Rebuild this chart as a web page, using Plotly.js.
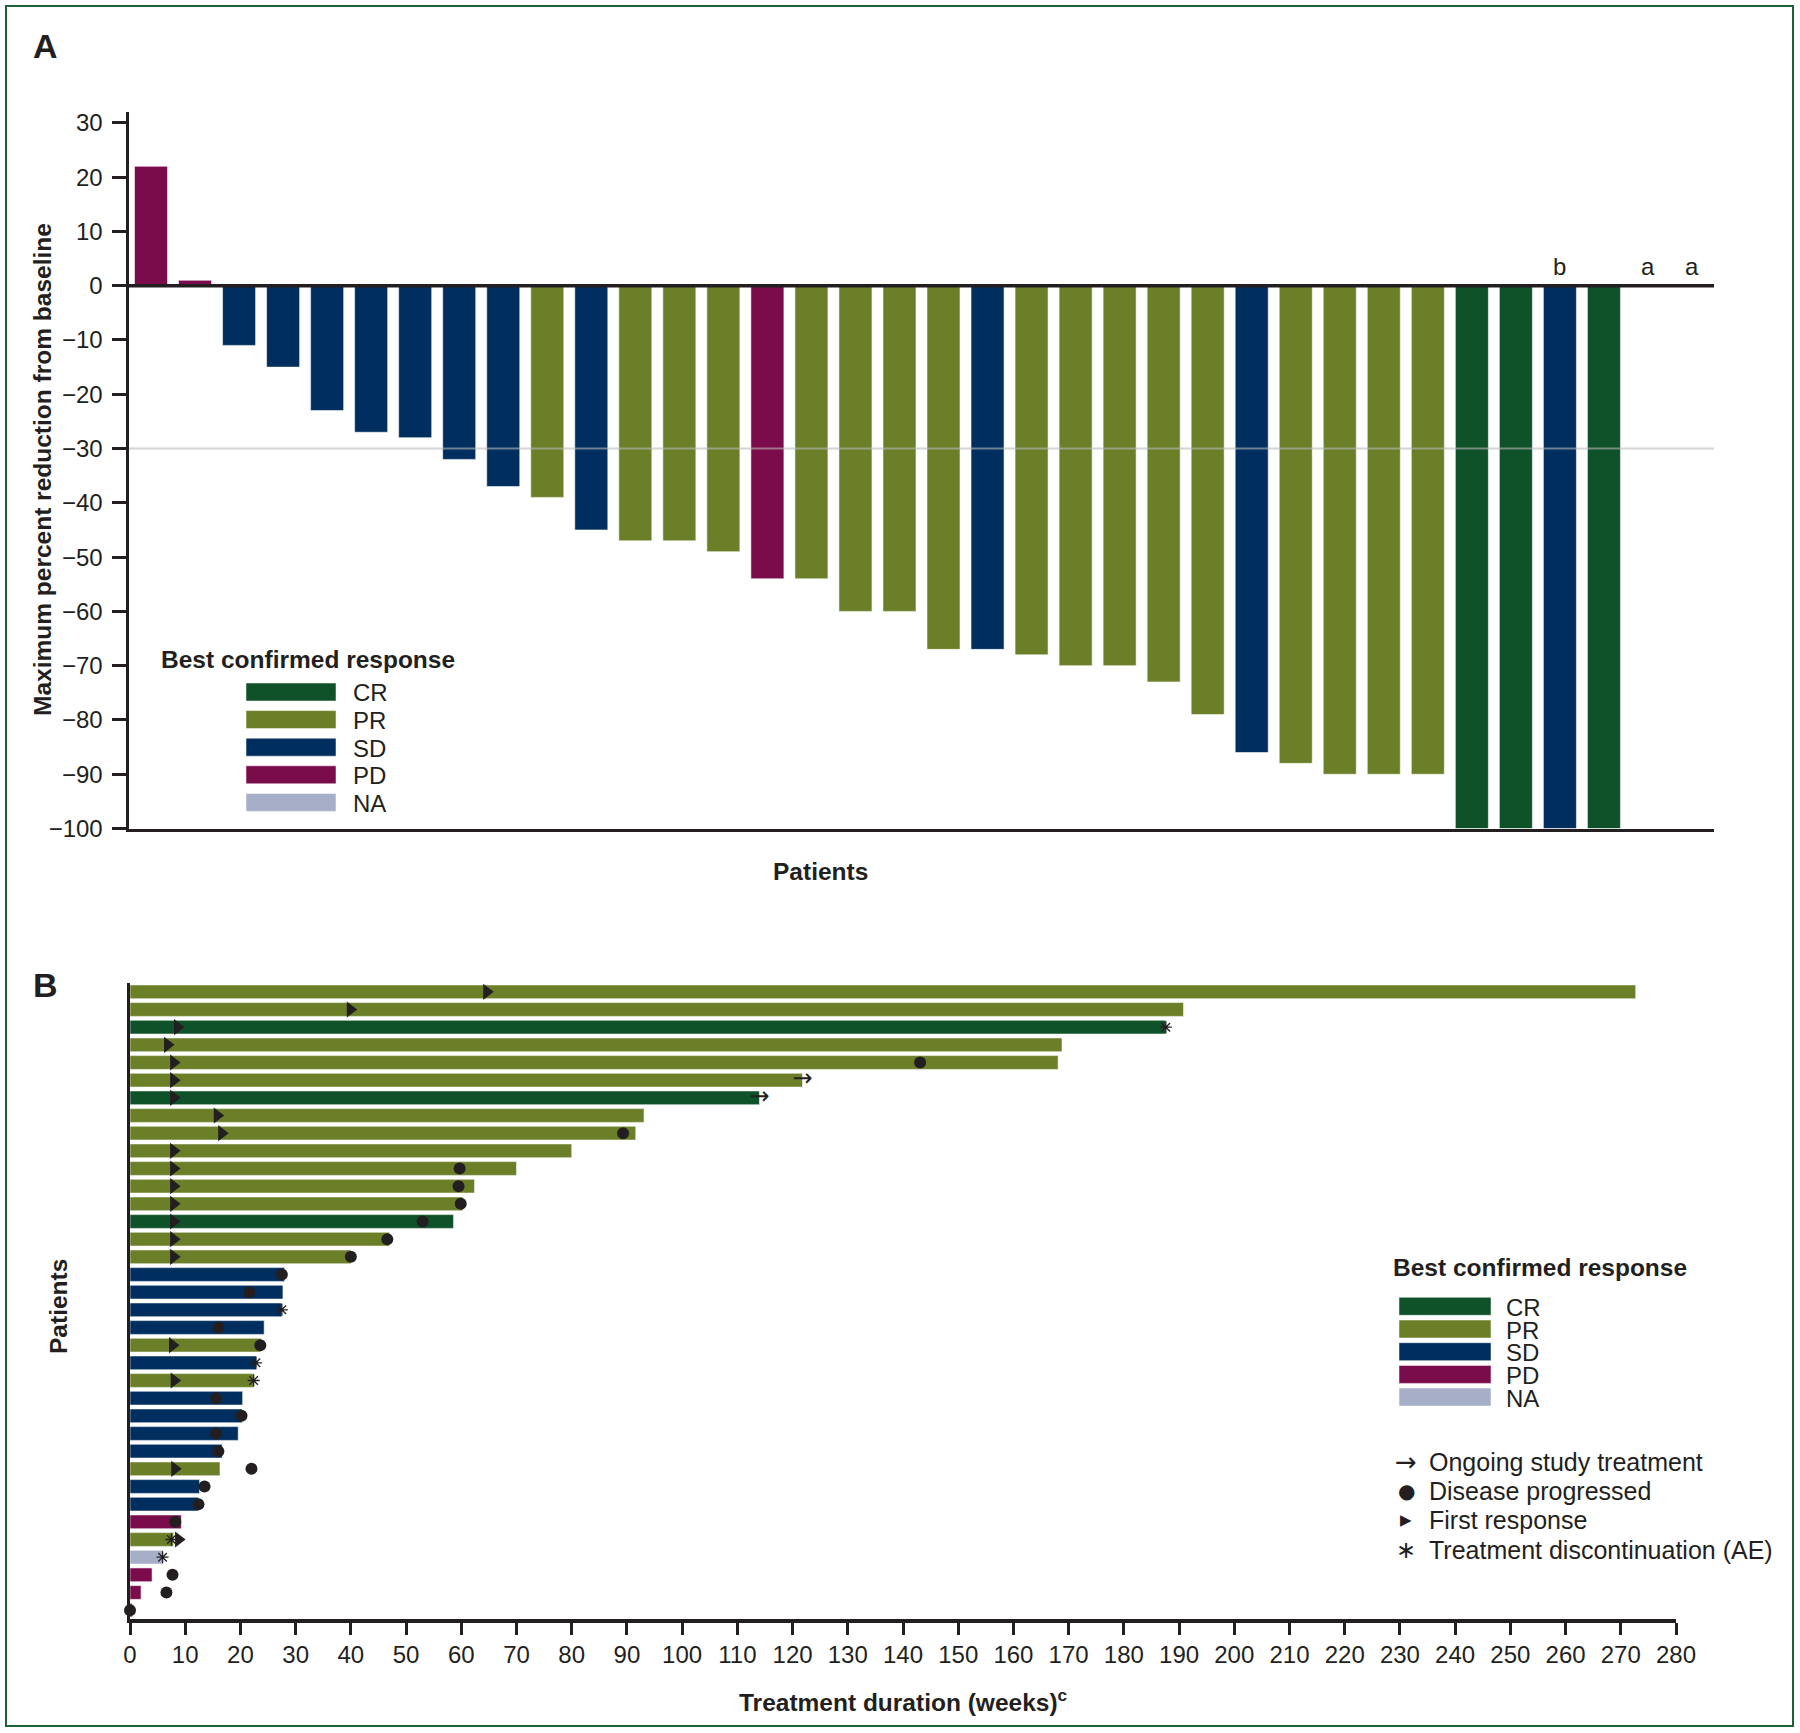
<!DOCTYPE html>
<html>
<head>
<meta charset="utf-8">
<script src="https://cdn.plot.ly/plotly-3.0.1.min.js"></script>
<style>html,body{margin:0;padding:0;background:#fff;}#chart{width:1800px;height:1733px;}</style>
</head>
<body>
<div id="chart"></div>
<script>
// ---------------- Panel A data (waterfall) ----------------
const patientsA = [1,2,3,4,5,6,7,8,9,10,11,12,13,14,15,16,17,18,19,20,21,22,23,24,25,26,27,28,29,30,31,32,33,34,35,36];
const changeA = [22, 1, -11, -15, -23, -27, -28, -32, -37, -39, -45, -47, -47, -49, -54, -54, -60, -60,
                 -67, -67, -68, -70, -70, -73, -79, -86, -88, -90, -90, -90, -100, -100, -100, -100, null, null];
const responseA = ['PD','PD','SD','SD','SD','SD','SD','SD','SD','PR','SD','PR','PR','PR','PD','PR','PR','PR',
                   'PR','SD','PR','PR','PR','PR','PR','SD','PR','PR','PR','PR','CR','CR','SD','CR', null, null];
const footnoteA = ['','','','','','','','','','','','','','','','','','','','','','','','','','','','','','','','','b','','a','a'];
const yTicksA = [-100,-90,-80,-70,-60,-50,-40,-30,-20,-10,0,10,20,30];

// ---------------- Panel B data (swimmer) ----------------
const rowsB = [1,2,3,4,5,6,7,8,9,10,11,12,13,14,15,16,17,18,19,20,21,22,23,24,25,26,27,28,29,30,31,32,33,34,35,36];
const durationB = [272.7, 190.8, 187.6, 168.8, 168.1, 121.8, 114.0, 93.1, 91.6, 80.0, 70.0, 62.4, 60.3, 58.6, 47.0, 40.0,
                   28.0, 27.7, 27.5, 24.3, 23.7, 22.9, 22.4, 20.4, 20.3, 19.6, 16.7, 16.3, 12.6, 12.4, 9.3, 7.9, 6.0, 4.0, 2.0, 0.4];
const responseB = ['PR','PR','CR','PR','PR','PR','CR','PR','PR','PR','PR','PR','PR','CR','PR','PR',
                   'SD','SD','SD','SD','PR','SD','PR','SD','SD','SD','SD','PR','SD','SD','PD','PR','NA','PD','PD','PD'];
const firstResponseB = [64.6, 39.9, 8.6, 6.8, 7.9, 7.9, 7.9, 15.8, 16.6, 7.9, 7.9, 7.9, 7.9, 7.9, 7.9, 7.9,
                        null, null, null, null, 7.7, null, 8.0, null, null, null, null, 8.1, null, null, null, 8.8, null, null, null, null];
const progressedB = [null, null, null, null, 143.1, null, null, null, 89.3, null, 59.7, 59.5, 59.9, 53.0, 46.6, 40.0,
                     27.5, 21.6, null, 16.0, 23.6, null, null, 15.6, 20.2, 15.6, 16.0, 22.0, 13.5, 12.4, 8.2, null, null, 7.7, 6.6, 0.0];
const discontinuedB = [null, null, 187.6, null, null, null, null, null, null, null, null, null, null, null, null, null,
                       null, null, 27.5, null, null, 22.8, 22.4, null, null, null, null, null, null, null, null, 7.5, 5.9, null, null, null];
const ongoingB = [false,false,false,false,false,true,true,false,false,false,false,false,false,false,false,false,
                  false,false,false,false,false,false,false,false,false,false,false,false,false,false,false,false,false,false,false,false];
const xTicksB = [0,10,20,30,40,50,60,70,80,90,100,110,120,130,140,150,160,170,180,190,200,210,220,230,240,250,260,270,280];

// ---------------- Legend / categories ----------------
const categories = ['CR','PR','SD','PD','NA'];
const catColors = {CR:'#0f5129', PR:'#6b7f28', SD:'#002f5f', PD:'#7b0c4c', NA:'#a7afc8'};
const symbolLegend = [
  {glyph:'\u2192', text:'Ongoing study treatment'},
  {glyph:'\u25CF', text:'Disease progressed'},
  {glyph:'\u25B6', text:'First response'},
  {glyph:'\u2217', text:'Treatment discontinuation (AE)'}
];

// ---------------- Helpers ----------------
const W = 1800, H = 1733;
const px = v => v / W;
const py = v => 1 - v / H;
const INK = '#231f20';
const FONT = 'Liberation Sans, Arial, Helvetica, sans-serif';

const traces = [];

// Panel A bars
const idxA = patientsA.map((p,i)=>i).filter(i => changeA[i] !== null);
traces.push({
  type:'bar', xaxis:'x', yaxis:'y',
  x: idxA.map(i=>patientsA[i]), y: idxA.map(i=>changeA[i]),
  width: 0.75,
  marker:{color: idxA.map(i=>catColors[responseA[i]]), line:{color:'rgba(255,255,255,0.55)', width:1}},
  hoverinfo:'x+y'
});

// Panel B bars
traces.push({
  type:'bar', orientation:'h', xaxis:'x2', yaxis:'y2',
  x: durationB, y: rowsB, width: 0.78,
  marker:{color: responseB.map(r=>catColors[r]), line:{color:'rgba(255,255,255,0.55)', width:1}},
  hoverinfo:'x+y'
});

// Panel B markers
function pick(arr){ const xs=[], ys=[]; arr.forEach((v,i)=>{ if(v!==null){ xs.push(v); ys.push(rowsB[i]); } }); return {xs, ys}; }
const fr = pick(firstResponseB);
traces.push({type:'scatter', mode:'markers', xaxis:'x2', yaxis:'y2', x:fr.xs, y:fr.ys, cliponaxis:false,
  marker:{symbol:'triangle-right', size:14, color:INK}});
const pg = pick(progressedB);
traces.push({type:'scatter', mode:'markers', xaxis:'x2', yaxis:'y2', x:pg.xs, y:pg.ys, cliponaxis:false,
  marker:{symbol:'circle', size:12, color:INK}});
const dc = pick(discontinuedB);
traces.push({type:'scatter', mode:'markers', xaxis:'x2', yaxis:'y2', x:dc.xs, y:dc.ys, cliponaxis:false,
  marker:{symbol:'asterisk-open', size:10, color:INK, line:{color:INK, width:1.3}}});
const og = pick(durationB.map((d,i)=> ongoingB[i] ? d : null));
traces.push({type:'scatter', mode:'text', xaxis:'x2', yaxis:'y2', x:og.xs, y:og.ys, cliponaxis:false,
  text: og.xs.map(()=> '\u2192'), textposition:'middle center',
  textfont:{family:'DejaVu Sans, sans-serif', size:24, color:INK}});

// ---------------- Shapes & annotations ----------------
const shapes = [
  // outer frame
  {type:'rect', xref:'paper', yref:'paper', x0:px(6), x1:px(1793), y0:py(1726), y1:py(6),
   line:{color:'#1f6238', width:2}, fillcolor:'rgba(0,0,0,0)', layer:'below'},
  // -30 reference line
  {type:'line', xref:'x domain', yref:'y', x0:0, x1:1, y0:-30, y1:-30,
   line:{color:'rgba(185,185,185,0.6)', width:2}, layer:'above'},
  // zero line
  {type:'line', xref:'x domain', yref:'y', x0:0, x1:1, y0:0, y1:0,
   line:{color:INK, width:3.5}, layer:'above'}
];
const annotations = [
  {xref:'paper', yref:'paper', x:px(31), y:py(46), xanchor:'left', yanchor:'middle', showarrow:false,
   text:'<b>A</b>', font:{size:34, color:INK}},
  {xref:'paper', yref:'paper', x:px(31), y:py(985), xanchor:'left', yanchor:'middle', showarrow:false,
   text:'<b>B</b>', font:{size:34, color:INK}},
  {xref:'paper', yref:'paper', x:px(43), y:py(470), xanchor:'center', yanchor:'middle', showarrow:false,
   textangle:-90, text:'<b>Maximum percent reduction from baseline</b>', font:{size:24.5, color:INK}},
  {xref:'paper', yref:'paper', x:px(820), y:py(871), xanchor:'center', yanchor:'middle', showarrow:false,
   text:'<b>Patients</b>', font:{size:24.5, color:INK}},
  {xref:'paper', yref:'paper', x:px(58), y:py(1307), xanchor:'center', yanchor:'middle', showarrow:false,
   textangle:-90, text:'<b>Patients</b>', font:{size:24.5, color:INK}},
  {xref:'paper', yref:'paper', x:px(903), y:py(1700), xanchor:'center', yanchor:'middle', showarrow:false,
   text:'<b>Treatment duration (weeks)<sup>c</sup></b>', font:{size:24.5, color:INK}}
];
// footnote letters above the zero line
footnoteA.forEach((t,i)=>{
  if(t){ annotations.push({xref:'x', yref:'y', x:patientsA[i], y:0, yanchor:'bottom', yshift:4, showarrow:false,
    text:t, font:{size:24, color:INK}}); }
});

// Legend A
annotations.push({xref:'paper', yref:'paper', x:px(159), y:py(659), xanchor:'left', yanchor:'middle', showarrow:false,
  text:'<b>Best confirmed response</b>', font:{size:24.5, color:INK}});
const legA_y = [692, 719.6, 747.2, 774.8, 802.4];
categories.forEach((c,k)=>{
  shapes.push({type:'rect', xref:'paper', yref:'paper', x0:px(246), x1:px(336), y0:py(legA_y[k]+9), y1:py(legA_y[k]-9),
    fillcolor:catColors[c], line:{color:'rgba(255,255,255,0.5)', width:1}});
  annotations.push({xref:'paper', yref:'paper', x:px(351), y:py(legA_y[k]+1), xanchor:'left', yanchor:'middle', showarrow:false,
    text:c, font:{size:24, color:INK}});
});

// Legend B
annotations.push({xref:'paper', yref:'paper', x:px(1391), y:py(1267), xanchor:'left', yanchor:'middle', showarrow:false,
  text:'<b>Best confirmed response</b>', font:{size:24.5, color:INK}});
const legB_y = [1306.3, 1329, 1351.7, 1374.4, 1397.1];
categories.forEach((c,k)=>{
  shapes.push({type:'rect', xref:'paper', yref:'paper', x0:px(1399), x1:px(1491), y0:py(legB_y[k]+9), y1:py(legB_y[k]-9),
    fillcolor:catColors[c], line:{color:'rgba(255,255,255,0.5)', width:1}});
  annotations.push({xref:'paper', yref:'paper', x:px(1504), y:py(legB_y[k]+1), xanchor:'left', yanchor:'middle', showarrow:false,
    text:c, font:{size:24, color:INK}});
});
const symY = [1462, 1491, 1520, 1549.5];
symbolLegend.forEach((s,k)=>{
  annotations.push({xref:'paper', yref:'paper', x:px(1406), y:py(symY[k]), xanchor:'center', yanchor:'middle', showarrow:false,
    text:s.glyph, font:{family:'DejaVu Sans, sans-serif', size: k===0 ? 26 : (k===1 ? 20 : (k===2 ? 15 : 24)), color:INK}});
  annotations.push({xref:'paper', yref:'paper', x:px(1427), y:py(symY[k]), xanchor:'left', yanchor:'middle', showarrow:false,
    text:s.text, font:{size:25, color:INK}});
});

// ---------------- Layout ----------------
const layout = {
  width: W, height: H,
  margin:{l:0, r:0, t:0, b:0},
  paper_bgcolor:'#ffffff', plot_bgcolor:'rgba(0,0,0,0)',
  showlegend:false, bargap:0,
  font:{family:FONT, color:INK, size:24},
  xaxis:{domain:[px(129), px(1714)], anchor:'y', range:[0.5, 36.5], showticklabels:false, ticks:'',
         showline:true, linewidth:3.5, linecolor:INK, showgrid:false, zeroline:false, fixedrange:true},
  yaxis:{domain:[py(828.5), py(112)], anchor:'x', range:[-100, 32], tickvals:yTicksA, ticks:'outside',
         ticklen:14, tickwidth:3, tickcolor:INK, showline:true, linewidth:3.5, linecolor:INK,
         showgrid:false, zeroline:false, tickfont:{size:24, color:INK}, ticklabelstandoff:4},
  xaxis2:{domain:[px(130), px(1676)], anchor:'y2', range:[0, 280], tickvals:xTicksB, ticks:'outside',
          ticklen:12, tickwidth:3, tickcolor:INK, showline:true, linewidth:3.5, linecolor:INK,
          showgrid:false, zeroline:false, tickfont:{size:24, color:INK}},
  yaxis2:{domain:[py(1619), py(983)], anchor:'x2', range:[36.5, 0.5], showticklabels:false, ticks:'',
          showline:true, linewidth:3.5, linecolor:INK, showgrid:false, zeroline:false},
  shapes: shapes,
  annotations: annotations
};

Plotly.newPlot('chart', traces, layout, {displayModeBar:false, staticPlot:true});
</script>
</body>
</html>
